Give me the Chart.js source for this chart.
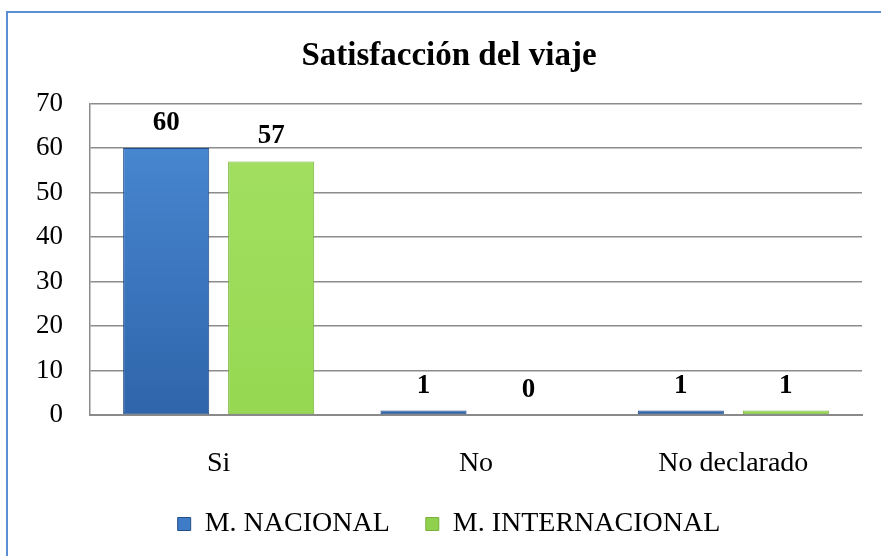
<!DOCTYPE html>
<html>
<head>
<meta charset="utf-8">
<script src="https://cdn.jsdelivr.net/npm/chart.js@4.4.1/dist/chart.umd.min.js"></script>
<style>
  html, body { margin: 0; padding: 0; background: #ffffff; }
  #wrap { position: relative; width: 881px; height: 556px; overflow: hidden; background: #fff; }
  #frame { position: absolute; left: 6px; top: 11px; width: 920px; height: 600px;
           border-left: 2px solid #5b8fd3; border-top: 2px solid #5b8fd3; box-sizing: border-box; }
  canvas { position: absolute; left: 0; top: 0; }
</style>
</head>
<body>
<div id="wrap">
  <div id="frame"></div>
  <canvas id="c" width="881" height="556"></canvas>
</div>
<script>
const chartTitle = "Satisfacción del viaje";
const categories = ["Si", "No", "No declarado"];
const seriesNames = ["M. NACIONAL", "M. INTERNACIONAL"];
const nacional = [60, 1, 1];
const internacional = [57, 0, 1];
const yTicks = [0, 10, 20, 30, 40, 50, 60, 70];

const FONT = "'Liberation Serif', 'Times New Roman', serif";

function vGrad(ctx, top, bottom) {
  const chart = ctx.chart;
  const area = chart.chartArea;
  if (!area) return top;
  const g = chart.ctx.createLinearGradient(0, area.top, 0, area.bottom);
  g.addColorStop(0, top);
  g.addColorStop(1, bottom);
  return g;
}

const valueLabels = {
  id: 'valueLabels',
  afterDatasetsDraw(chart) {
    const ctx = chart.ctx;
    ctx.save();
    ctx.font = "bold 27px " + FONT;
    ctx.fillStyle = "#000";
    ctx.textAlign = "center";
    ctx.textBaseline = "alphabetic";
    chart.data.datasets.forEach((ds, i) => {
      const meta = chart.getDatasetMeta(i);
      meta.data.forEach((bar, j) => {
        ctx.fillText(String(ds.data[j]), bar.x, bar.y - 18);
      });
    });
    ctx.restore();
  }
};

new Chart(document.getElementById('c'), {
  type: 'bar',
  data: {
    labels: categories,
    datasets: [
      {
        label: seriesNames[0],
        data: nacional,
        backgroundColor: (ctx) => vGrad(ctx, '#4b8bd6', '#2f65aa'),
        borderColor: '#244e88',
        borderWidth: 1,
        borderSkipped: false
      },
      {
        label: seriesNames[1],
        data: internacional,
        backgroundColor: (ctx) => vGrad(ctx, '#a4e063', '#96d852'),
        borderColor: '#78b23c',
        borderWidth: 1,
        borderSkipped: false
      }
    ]
  },
  plugins: [valueLabels],
  options: {
    responsive: false,
    animation: false,
    devicePixelRatio: 1,
    layout: { padding: { left: 36, right: 19, top: 14, bottom: 8 } },
    datasets: {
      bar: { categoryPercentage: 0.816, barPercentage: 0.82 }
    },
    plugins: {
      title: {
        display: true,
        text: chartTitle,
        color: '#000',
        font: { family: FONT, size: 33, weight: 'bold' },
        padding: { top: 23, bottom: 27 }
      },
      legend: {
        position: 'bottom',
        labels: {
          color: '#000',
          font: { family: FONT, size: 28 },
          boxWidth: 13,
          boxHeight: 13,
          padding: 36,
          generateLabels(chart) {
            const cols = ['#3f7cc8', '#8fd14c'];
            const borders = ['#244e88', '#78b23c'];
            return chart.data.datasets.map((ds, i) => ({
              text: ds.label,
              fillStyle: cols[i],
              strokeStyle: borders[i],
              lineWidth: 1,
              fontColor: '#000',
              datasetIndex: i,
              hidden: false
            }));
          }
        }
      },
      tooltip: { enabled: false }
    },
    scales: {
      x: {
        afterFit(scale) { scale.height = 59; },
        grid: { display: false, drawTicks: false },
        border: { display: true, color: '#8a8a8a', width: 2 },
        ticks: { color: '#000', font: { family: FONT, size: 28 }, padding: 32 }
      },
      y: {
        min: 0,
        max: 70,
        afterFit(scale) { scale.width = 54; },
        afterBuildTicks(scale) { scale.ticks = yTicks.map(v => ({ value: v })); },
        grid: { color: '#8c8c8c', lineWidth: 1.5, drawTicks: false },
        border: { display: true, color: '#8c8c8c', width: 1.5 },
        ticks: { color: '#000', font: { family: FONT, size: 27 }, padding: 27 }
      }
    }
  }
});
</script>
</body>
</html>
